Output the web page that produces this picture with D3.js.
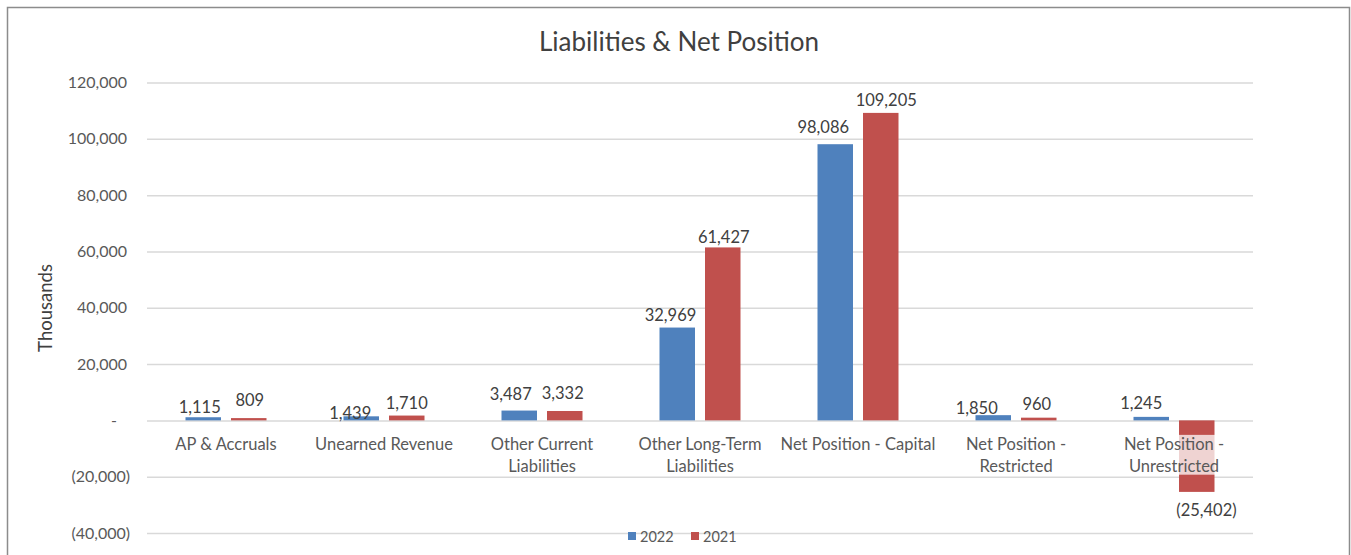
<!DOCTYPE html>
<html><head><meta charset="utf-8">
<script src="https://cdn.jsdelivr.net/npm/d3@7"></script>
<style>body{margin:0;background:#fff}svg{display:block}text{font-family:Lato,"Open Sans",sans-serif}</style>
</head><body><svg id="c" width="1351" height="555"></svg>
<script>
const categories = [["AP & Accruals"],["Unearned Revenue"],["Other Current","Liabilities"],["Other Long-Term","Liabilities"],["Net Position - Capital"],["Net Position -","Restricted"],["Net Position -","Unrestricted"]];
const series = ["2022","2021"];
const values2022 = [1115,1439,3487,32969,98086,1850,1245];
const values2021 = [809,1710,3332,61427,109205,960,-25402];
const yTicks = [-40000,-20000,0,20000,40000,60000,80000,100000,120000];
const colors = ["#4F81BD","#C0504D"];
// layout only: small label nudges (px) reproducing the reference's data-label placement
const labelNudge = [
  [[-3.5,0],[1,-8]],
  [[-11,6.5],[0,-3]],
  [[-8.5,-6.7],[-2,-8]],
  [[-6.7,-2.8],[1,0]],
  [[-12,-7],[5.5,-3]],
  [[-16.5,2.4],[-2,-3.6]],
  [[-10,-3.7],[9.7,0]]
];

const svg = d3.select("#c");
svg.append("path").attr("d","M7.5,555 V7.5 H1349.5 V555").attr("fill","none").attr("stroke","#8c8c8c").attr("stroke-width",1.5);

const x = d3.scaleBand().domain(d3.range(categories.length)).range([147,1253]);
const xs = d3.scaleBand().domain(series).range([0,x.bandwidth()]).paddingInner(0.22).paddingOuter(0.846);
const y = d3.scaleLinear().domain([-40000,120000]).range([533,82.5]);
const fmt = v => v===0 ? "-" : (v<0 ? "("+d3.format(",")(-v)+")" : d3.format(",")(v));

const yAxis = d3.axisLeft(y).tickValues(yTicks).tickSize(-(1253-147)).tickFormat(fmt).tickPadding(20);
const ga = svg.append("g").attr("transform","translate(147,0)").call(yAxis);
ga.select(".domain").remove();
ga.selectAll(".tick line").attr("stroke","#d9d9d9").attr("stroke-width",1.5);
ga.selectAll(".tick text").attr("fill","#595959").style("font-size","16px").attr("font-family","Lato")
  .attr("dx", d => d<0 ? 3 : (d===0 ? -10 : 0));

svg.append("text").attr("x",679).attr("y",51).attr("text-anchor","middle").attr("fill","#404040").style("font-size","26px").text("Liabilities & Net Position");
svg.append("text").attr("transform","translate(52,308) rotate(-90)").attr("text-anchor","middle").attr("fill","#404040").style("font-size","18.5px").text("Thousands");

const data = categories.map((c,i)=>({i, vals:[values2022[i],values2021[i]]}));
const g = svg.append("g");
data.forEach(d=>{
  d.vals.forEach((v,j)=>{
    g.append("rect").attr("x",x(d.i)+xs(series[j])).attr("width",xs.bandwidth())
      .attr("y",y(Math.max(0,v))).attr("height",Math.abs(y(v)-y(0)))
      .attr("fill",colors[j]);
  });
});

categories.forEach((lines,i)=>{
  const cx = x(i)+x.bandwidth()/2;
  const lg = svg.append("g");
  const bg = lg.append("rect").attr("fill","#fff").attr("fill-opacity",0.75);
  const t = lg.append("text").attr("text-anchor","middle").attr("fill","#595959").style("font-size","16.5px");
  lines.forEach((l,k)=>t.append("tspan").attr("x",cx).attr("y",450+k*22).text(l));
  const bb = t.node().getBBox();
  const top = y(0)+14.5;
  bg.attr("x",bb.x-4).attr("y",top).attr("width",bb.width+8).attr("height",y(-20000)-2-top);
});

data.forEach(d=>{
  d.vals.forEach((v,j)=>{
    const cx = x(d.i)+xs(series[j])+xs.bandwidth()/2;
    const [ndx,ndy] = labelNudge[d.i][j];
    svg.append("text").attr("x",cx+ndx).attr("y", (v>=0 ? y(v)-4 : y(v)+24)+ndy)
      .attr("text-anchor","middle").attr("fill","#404040").style("font-size","16.5px").text(fmt(v));
  });
});

const lx = [628,691];
series.forEach((s,j)=>{
  svg.append("rect").attr("x",lx[j]).attr("y",532).attr("width",8).attr("height",8).attr("fill",colors[j]);
  svg.append("text").attr("x",lx[j]+12).attr("y",542).attr("fill","#595959").style("font-size","14.5px").text(s);
});
</script></body></html>
